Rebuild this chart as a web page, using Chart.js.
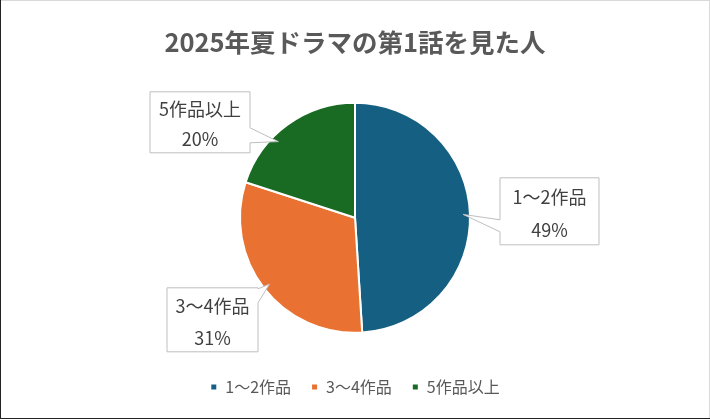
<!DOCTYPE html>
<html lang="ja">
<head>
<meta charset="utf-8">
<script src="https://cdn.jsdelivr.net/npm/chart.js@4"></script>
<style>
  html, body { margin: 0; padding: 0; background: #fff; }
  #wrap { width: 710px; height: 419px; }
</style>
</head>
<body>
<div id="wrap"><canvas id="chart" width="710" height="419"></canvas></div>
<script>
// データ
const categories = ['1〜2作品', '3〜4作品', '5作品以上'];
const shares = [49, 31, 20];
const sliceColors = ['#156082', '#E97132', '#196B24'];
const chartTitle = '2025年夏ドラマの第1話を見た人';

// 吹き出しの位置（円の中心からの相対位置）
const callouts = [
  { dx: 145, dy: -40, w: 99, h: 67, side: 'left', a: 42, b: 54, turn: 0 },
  { dx: -188, dy: 70, w: 91, h: 64, side: 'right', a: 1, b: 15, turn: 0 },
  { dx: -205, dy: -126, w: 100, h: 61, side: 'right', a: 36, b: 51, turn: -0.16 }
];

const JP = '"Noto Sans CJK JP", "Noto Sans", sans-serif';

const frame = {
  id: 'frame',
  beforeDraw(chart) {
    const c = chart.ctx;
    c.save();
    c.fillStyle = '#fff';
    c.fillRect(0, 0, chart.width, chart.height);
    c.lineWidth = 1;
    c.strokeStyle = '#d9d9d9';
    c.beginPath();
    c.moveTo(0, 0.5); c.lineTo(chart.width, 0.5);
    c.moveTo(chart.width - 0.5, 0); c.lineTo(chart.width - 0.5, chart.height);
    c.stroke();
    c.strokeStyle = '#222';
    c.beginPath();
    c.moveTo(0.5, 0); c.lineTo(0.5, chart.height);
    c.moveTo(0, chart.height - 0.5); c.lineTo(chart.width, chart.height - 0.5);
    c.stroke();
    c.restore();
  }
};

const calloutLabels = {
  id: 'calloutLabels',
  afterDatasetsDraw(chart) {
    const c = chart.ctx;
    const arcs = chart.getDatasetMeta(0).data;
    arcs.forEach((arc, i) => {
      const co = callouts[i];
      const mid = (arc.startAngle + arc.endAngle) / 2 + co.turn;
      const tx = arc.x + Math.cos(mid) * arc.outerRadius * 0.94;
      const ty = arc.y + Math.sin(mid) * arc.outerRadius * 0.94;
      const L = arc.x + co.dx, T = arc.y + co.dy, R = L + co.w, B = T + co.h;

      c.save();
      c.beginPath();
      c.moveTo(L, T);
      c.lineTo(R, T);
      if (co.side === 'right') {
        c.lineTo(R, T + co.a); c.lineTo(tx, ty); c.lineTo(R, T + co.b);
      }
      c.lineTo(R, B);
      c.lineTo(L, B);
      if (co.side === 'left') {
        c.lineTo(L, T + co.b); c.lineTo(tx, ty); c.lineTo(L, T + co.a);
      }
      c.closePath();
      c.fillStyle = '#fff';
      c.fill();
      c.lineWidth = 1;
      c.strokeStyle = '#bfbfbf';
      c.stroke();

      c.fillStyle = '#404040';
      c.font = '18px ' + JP;
      c.textAlign = 'center';
      c.textBaseline = 'middle';
      const cx = (L + R) / 2;
      c.fillText(categories[i], cx, T + co.h * 0.29);
      c.fillText(shares[i] + '%', cx, T + co.h * 0.78);
      c.restore();
    });
  }
};

new Chart(document.getElementById('chart'), {
  type: 'pie',
  data: {
    labels: categories,
    datasets: [{
      data: shares,
      backgroundColor: sliceColors,
      borderColor: '#fff',
      borderWidth: 2,
      radius: 115
    }]
  },
  options: {
    responsive: false,
    animation: false,
    layout: { padding: { bottom: 14 } },
    plugins: {
      title: {
        display: true,
        text: chartTitle,
        color: '#595959',
        font: { family: JP, size: 25.5, weight: 'bold' },
        padding: { top: 27, bottom: 19 }
      },
      legend: {
        position: 'bottom',
        labels: {
          color: '#595959',
          font: { family: JP, size: 16 },
          boxWidth: 7,
          boxHeight: 7,
          padding: 20
        }
      },
      tooltip: { enabled: false }
    }
  },
  plugins: [frame, calloutLabels]
});
</script>
</body>
</html>
